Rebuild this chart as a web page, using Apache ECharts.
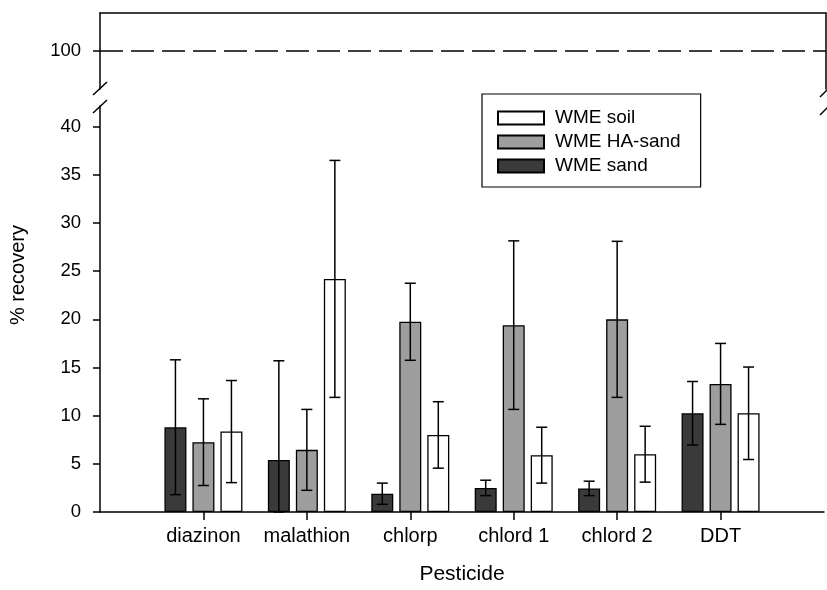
<!DOCTYPE html>
<html>
<head>
<meta charset="utf-8">
<script src="https://cdn.jsdelivr.net/npm/echarts@6/dist/echarts.min.js"></script>
<style>
html,body{margin:0;padding:0;background:#fff;}
#chart{width:827px;height:590px;}
</style>
</head>
<body>
<div id="chart"></div>
<script>
// ---- data ----
const categories = ['diazinon', 'malathion', 'chlorp', 'chlord 1', 'chlord 2', 'DDT'];
const sandMean = [8.8, 5.4, 1.9, 2.5, 2.45, 10.25];
const sandErr  = [7.0, 10.3, 1.1, 0.8, 0.75, 3.3];
const haMean   = [7.25, 6.45, 19.75, 19.4, 20.0, 13.3];
const haErr    = [4.5, 4.2, 4.0, 8.75, 8.1, 4.2];
const soilMean = [8.35, 24.2, 8.0, 5.9, 6.0, 10.25];
const soilErr  = [5.3, 12.3, 3.45, 2.9, 2.9, 4.8];
const lowerTicks = [0, 5, 10, 15, 20, 25, 30, 35, 40];
const upperTicks = [100];
const referenceLevel = 100;
const seriesNames = ['WME sand', 'WME HA-sand', 'WME soil'];

// ---- layout / style ----
const FONT = '"Liberation Sans", Arial, sans-serif';
const BAR_W = 22, BAR_GAP = 6;
const axisCats = [''].concat(categories, ['']);
function pad(arr) { return [null].concat(arr, [null]); }

const chart = echarts.init(document.getElementById('chart'), null, {renderer: 'canvas'});

function errSeries(name, means, errs, offset) {
  return {
    type: 'custom',
    name: name + ' err',
    xAxisIndex: 1, yAxisIndex: 1,
    z: 5,
    silent: true,
    data: means.map((m, i) => [i + 1, m, errs[i]]),
    encode: {x: 0, y: 1},
    renderItem: function (params, api) {
      const xi = api.value(0), m = api.value(1), e = api.value(2);
      const hi = api.coord([xi, m + e]);
      const lo = api.coord([xi, Math.max(0, m - e)]);
      const cx = hi[0] + offset;
      const cap = 5.5;
      const st = {stroke: '#000', lineWidth: 1.5};
      return {
        type: 'group',
        children: [
          {type: 'line', shape: {x1: cx, y1: hi[1], x2: cx, y2: lo[1]}, style: st},
          {type: 'line', shape: {x1: cx - cap, y1: hi[1], x2: cx + cap, y2: hi[1]}, style: st},
          {type: 'line', shape: {x1: cx - cap, y1: lo[1], x2: cx + cap, y2: lo[1]}, style: st}
        ]
      };
    }
  };
}

const barColors = ['#3a3a3a', '#9e9e9e', '#ffffff'];
const means = [sandMean, haMean, soilMean];
const errs = [sandErr, haErr, soilErr];
const step = BAR_W + BAR_GAP;

const series = [];
seriesNames.forEach((n, k) => {
  series.push({
    type: 'bar',
    name: n,
    xAxisIndex: 1, yAxisIndex: 1,
    barWidth: BAR_W,
    barGap: (BAR_GAP / BAR_W * 100) + '%',
    data: pad(means[k]),
    itemStyle: {color: barColors[k], borderColor: '#000', borderWidth: 1.3},
    emphasis: {disabled: true}
  });
});
seriesNames.forEach((n, k) => {
  series.push(errSeries(n, means[k], errs[k], (k - 1) * step));
});
series.push({
  type: 'line',
  name: 'ref',
  xAxisIndex: 0, yAxisIndex: 0,
  data: [],
  silent: true,
  markLine: {
    symbol: 'none',
    silent: true,
    label: {show: false},
    lineStyle: {color: '#000', width: 1.5, type: [23, 8]},
    data: [{yAxis: referenceLevel}]
  }
});

const axisLineStyle = {color: '#000', width: 1.5};

const option = {
  animation: false,
  backgroundColor: '#fff',
  textStyle: {fontFamily: FONT, color: '#000'},
  grid: [
    {left: 100, right: 1, top: 13, height: 76, containLabel: false},
    {left: 100, right: 1, top: 106, bottom: 73, containLabel: false}
  ],
  legend: {
    data: ['WME soil', 'WME HA-sand', 'WME sand'],
    orient: 'vertical',
    left: 482, top: 94,
    padding: [14, 20, 11, 15],
    itemWidth: 46, itemHeight: 13, itemGap: 4,
    icon: 'rect',
    borderColor: '#000', borderWidth: 1.2,
    backgroundColor: '#fff',
    selectedMode: false,
    textStyle: {fontFamily: FONT, fontSize: 19, color: '#000', lineHeight: 20, padding: [0, 0, 0, 6]}
  },
  xAxis: [
    {
      type: 'category', gridIndex: 0, position: 'top', data: axisCats, boundaryGap: false,
      axisLine: {show: true, lineStyle: axisLineStyle},
      axisTick: {show: false}, axisLabel: {show: false}, splitLine: {show: false}
    },
    {
      type: 'category', gridIndex: 1, data: axisCats, boundaryGap: false,
      axisLine: {show: true, lineStyle: axisLineStyle},
      axisTick: {show: true, length: 8, lineStyle: axisLineStyle, interval: function (i) { return i > 0 && i < axisCats.length - 1; }},
      axisLabel: {interval: 0, fontSize: 20, color: '#000', margin: 14, fontFamily: FONT},
      splitLine: {show: false},
      name: 'Pesticide', nameLocation: 'middle', nameGap: 52,
      nameTextStyle: {fontSize: 21, color: '#000', fontFamily: FONT}
    }
  ],
  yAxis: [
    {
      type: 'value', gridIndex: 0, min: 90, max: 110,
      axisLine: {show: true, lineStyle: axisLineStyle},
      axisTick: {show: true, length: 7, lineStyle: axisLineStyle, customValues: upperTicks},
      axisLabel: {fontSize: 18.5, color: '#000', margin: 19, fontFamily: FONT, customValues: upperTicks},
      splitLine: {show: false}
    },
    {
      type: 'value', gridIndex: 0, min: 90, max: 110, position: 'right',
      axisLine: {show: true, lineStyle: axisLineStyle},
      axisTick: {show: false}, axisLabel: {show: false}, splitLine: {show: false}
    },
    {
      type: 'value', gridIndex: 1, min: 0, max: 42.15,
      axisLine: {show: true, lineStyle: axisLineStyle},
      axisTick: {show: true, length: 7, lineStyle: axisLineStyle, customValues: lowerTicks},
      axisLabel: {fontSize: 18.5, color: '#000', margin: 19, fontFamily: FONT, customValues: lowerTicks},
      splitLine: {show: false}
    }
  ],
  series: series.map(s => {
    if (s.yAxisIndex === 1) s.yAxisIndex = 2;
    return s;
  }),
  graphic: [
    {type: 'text', left: 8, top: 225, rotation: Math.PI / 2, style: {text: '% recovery', font: '20px ' + FONT, fill: '#000'}, silent: true,
     x: 9, y: 272, originX: 0, originY: 0},
    {type: 'line', shape: {x1: 93, y1: 95, x2: 107, y2: 82}, style: {stroke: '#000', lineWidth: 1.5}, silent: true},
    {type: 'line', shape: {x1: 93, y1: 113, x2: 107, y2: 100}, style: {stroke: '#000', lineWidth: 1.5}, silent: true},
    {type: 'line', shape: {x1: 820, y1: 97, x2: 833, y2: 84}, style: {stroke: '#000', lineWidth: 1.5}, silent: true},
    {type: 'line', shape: {x1: 820, y1: 115, x2: 833, y2: 102}, style: {stroke: '#000', lineWidth: 1.5}, silent: true}
  ]
};

chart.setOption(option);
</script>
</body>
</html>
